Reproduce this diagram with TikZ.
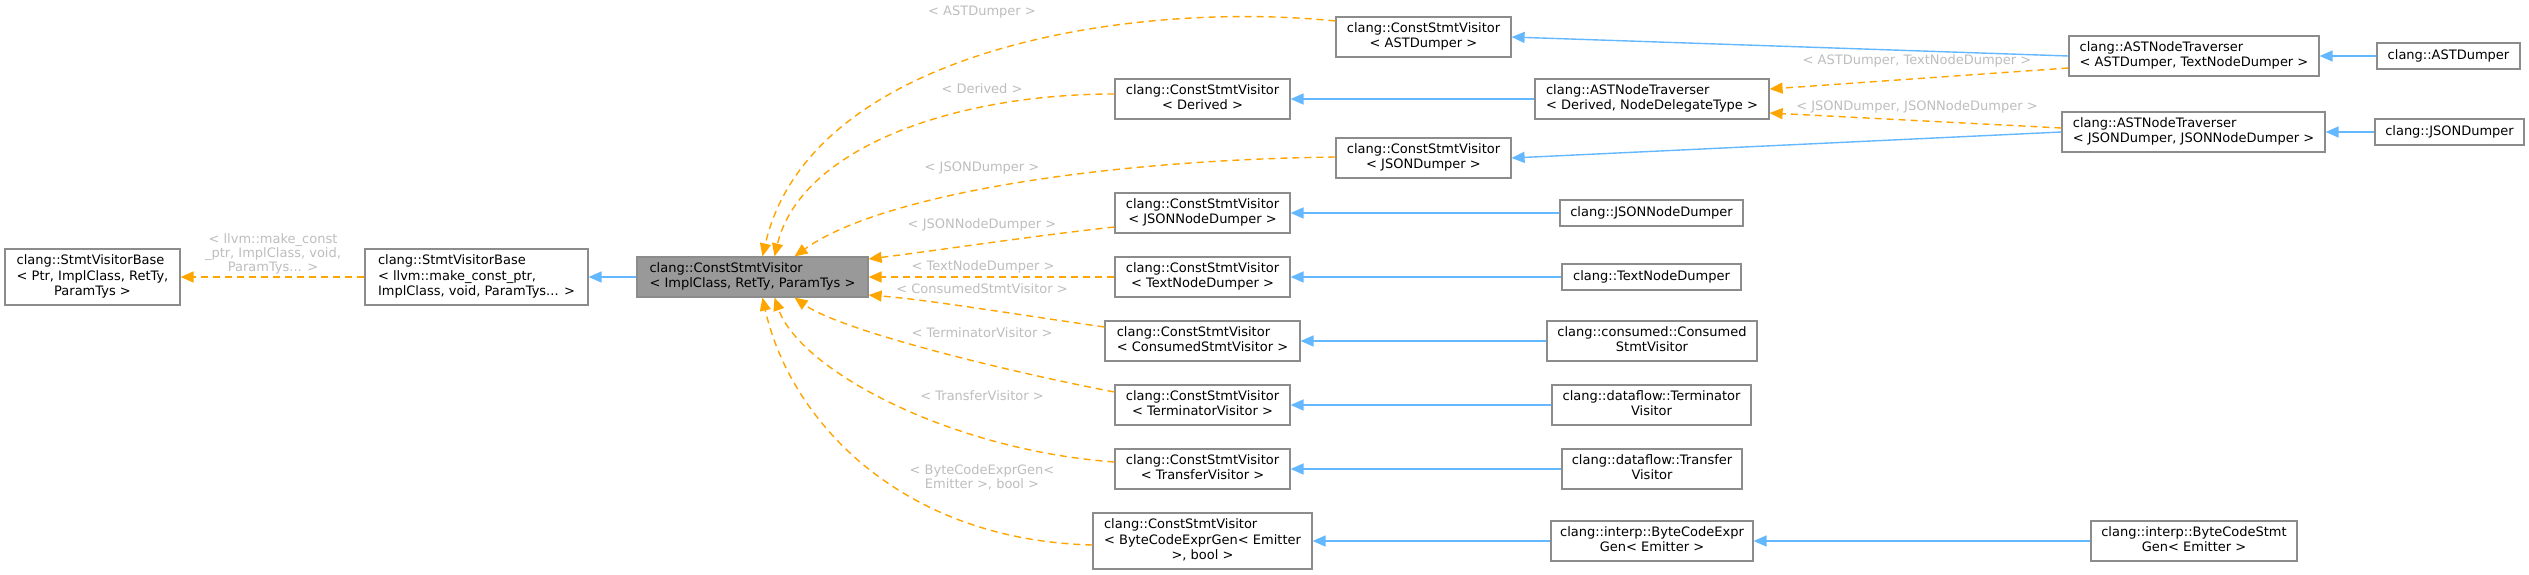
\documentclass[tikz,border=0pt]{standalone}
\usepackage{fontspec}
\setmainfont{DejaVu Sans}
\usetikzlibrary{arrows.meta,calc}
\definecolor{edgeblue}{HTML}{63B8FF}
\definecolor{edgeorange}{HTML}{FFA500}
\definecolor{lblgray}{HTML}{BEBEBE}
\definecolor{boxborder}{HTML}{8C8C8C}
\definecolor{mainfill}{HTML}{999999}
\newcommand{\twol}[2]{\begin{tabular}{@{}l@{}}#1\\\multicolumn{1}{@{}c@{}}{#2}\end{tabular}}
\newcommand{\threel}[3]{\begin{tabular}{@{}l@{}}#1\\#2\\\multicolumn{1}{@{}c@{}}{#3}\end{tabular}}
\tikzset{
  cls/.style={draw=boxborder, line width=1.2pt, fill=white, inner sep=0pt,
    font=\fontsize{13}{15.6}\selectfont, text=black, minimum height=40pt},
  mainbox/.style={cls, fill=mainfill},
  blueedge/.style={draw=edgeblue, line width=1.4pt, -{Triangle[length=13pt,width=11pt]}},
  orangeedge/.style={draw=edgeorange, line width=1.4pt, dash pattern=on 7pt off 5pt,
    -{Triangle[length=13pt,width=11pt]}},
  lbl/.style={text=lblgray, inner sep=0pt, align=center,
    font=\fontsize{13}{14}\selectfont},
}
\begin{document}
\begin{tikzpicture}[x=1pt,y=-1pt]
\fill[white] (0,0) rectangle (2529,574);
\useasboundingbox (0,0) rectangle (2529,574);

% nodes
\node[cls, minimum width=175pt, minimum height=56pt] (svbPtr) at (92.5,277)
  {\threel{clang::StmtVisitorBase}{< Ptr, ImplClass, RetTy,}{ParamTys >}};
\node[cls, minimum width=223pt, minimum height=56pt] (svbLlvm) at (476.5,277)
  {\threel{clang::StmtVisitorBase}{< llvm::make\_const\_ptr,}{ ImplClass, void, ParamTys... >}};
\node[mainbox, minimum width=231pt] (gray) at (752.5,277)
  {\twol{clang::ConstStmtVisitor}{< ImplClass, RetTy, ParamTys >}};

\node[cls, minimum width=175pt] (csvAST) at (1423.5,37) {\twol{clang::ConstStmtVisitor}{< ASTDumper >}};
\node[cls, minimum width=175pt] (csvDer) at (1202.5,99) {\twol{clang::ConstStmtVisitor}{< Derived >}};
\node[cls, minimum width=175pt] (csvJSON) at (1423.5,158) {\twol{clang::ConstStmtVisitor}{< JSONDumper >}};
\node[cls, minimum width=175pt] (csvJND) at (1202.5,213) {\twol{clang::ConstStmtVisitor}{< JSONNodeDumper >}};
\node[cls, minimum width=175pt] (csvTND) at (1202.5,277) {\twol{clang::ConstStmtVisitor}{< TextNodeDumper >}};
\node[cls, minimum width=195pt] (csvCons) at (1202.5,341) {\twol{clang::ConstStmtVisitor}{< ConsumedStmtVisitor >}};
\node[cls, minimum width=175pt] (csvTerm) at (1202.5,405) {\twol{clang::ConstStmtVisitor}{< TerminatorVisitor >}};
\node[cls, minimum width=175pt] (csvTrans) at (1202.5,469) {\twol{clang::ConstStmtVisitor}{< TransferVisitor >}};
\node[cls, minimum width=219pt, minimum height=56pt] (csvBC) at (1202.5,541)
  {\threel{clang::ConstStmtVisitor}{< ByteCodeExprGen< Emitter}{>, bool >}};

\node[cls, minimum width=234pt] (antDer) at (1652,99) {\twol{clang::ASTNodeTraverser}{< Derived, NodeDelegateType >}};
\node[cls, minimum width=250pt] (antAST) at (2194,56) {\twol{clang::ASTNodeTraverser}{< ASTDumper, TextNodeDumper >}};
\node[cls, minimum width=263pt] (antJSON) at (2193.5,132) {\twol{clang::ASTNodeTraverser}{< JSONDumper, JSONNodeDumper >}};

\node[cls, minimum width=143pt, minimum height=26pt] (astD) at (2448.5,56) {clang::ASTDumper};
\node[cls, minimum width=149pt, minimum height=26pt] (jsonD) at (2449.5,132) {clang::JSONDumper};
\node[cls, minimum width=183pt, minimum height=26pt] (jnd) at (1651.5,213) {clang::JSONNodeDumper};
\node[cls, minimum width=179pt, minimum height=26pt] (tnd) at (1651.5,277) {clang::TextNodeDumper};
\node[cls, minimum width=210pt] (consumed) at (1652,341) {\twol{clang::consumed::Consumed}{StmtVisitor}};
\node[cls, minimum width=199pt] (term) at (1651.5,405) {\twol{clang::dataflow::Terminator}{Visitor}};
\node[cls, minimum width=180pt] (transfer) at (1652,469) {\twol{clang::dataflow::Transfer}{Visitor}};
\node[cls, minimum width=202pt] (bceg) at (1652,541) {\twol{clang::interp::ByteCodeExpr}{Gen< Emitter >}};
\node[cls, minimum width=206pt] (bcsg) at (2194,541) {\twol{clang::interp::ByteCodeStmt}{Gen< Emitter >}};

% blue inheritance edges
\draw[blueedge] (gray.west) -- (svbLlvm.east);
\draw[blueedge] (antAST.west) -- (csvAST.east);
\draw[blueedge] (antDer.west) -- (csvDer.east);
\draw[blueedge] (antJSON.west) -- (csvJSON.east);
\draw[blueedge] (astD.west) -- (antAST.east);
\draw[blueedge] (jsonD.west) -- (antJSON.east);
\draw[blueedge] (jnd.west) -- (csvJND.east);
\draw[blueedge] (tnd.west) -- (csvTND.east);
\draw[blueedge] (consumed.west) -- (csvCons.east);
\draw[blueedge] (term.west) -- (csvTerm.east);
\draw[blueedge] (transfer.west) -- (csvTrans.east);
\draw[blueedge] (bceg.west) -- (csvBC.east);
\draw[blueedge] (bcsg.west) -- (bceg.east);

% orange template edges
\draw[orangeedge] (svbLlvm.west) -- (svbPtr.east);
\draw[orangeedge] ($(antAST.west)+(0,12)$) -- ($(antDer.east)+(0,-10)$);
\draw[orangeedge] ($(antJSON.west)+(0,-4)$) -- ($(antDer.east)+(0,14)$);

\draw[orangeedge] ($(csvAST.west)+(0,-16)$) .. controls (1130,0) and (810,50) .. ($(gray.north)+(10,0)$);
\draw[orangeedge] ($(csvDer.west)+(0,-5)$) .. controls (950,94) and (800,150) .. ($(gray.north)+(22,0)$);
\draw[orangeedge] ($(csvJSON.west)+(0,-1)$) .. controls (1100,160) and (880,195) .. ($(gray.north)+(42,0)$);
\draw[orangeedge] ($(csvJND.west)+(0,14)$) .. controls (1040,235) and (940,250) .. ($(gray.east)+(0,-18)$);
\draw[orangeedge] (csvTND.west) -- (gray.east);
\draw[orangeedge] ($(csvCons.west)+(0,-14)$) .. controls (1020,315) and (930,300) .. ($(gray.east)+(0,18)$);
\draw[orangeedge] ($(csvTerm.west)+(0,-13)$) .. controls (1000,370) and (840,330) .. ($(gray.south)+(42,0)$);
\draw[orangeedge] ($(csvTrans.west)+(0,-7)$) .. controls (950,450) and (800,370) .. ($(gray.south)+(22,0)$);
\draw[orangeedge] ($(csvBC.west)+(0,4)$) .. controls (900,540) and (790,420) .. ($(gray.south)+(10,0)$);

% edge labels
\node[lbl] (l0) at (273,254) {< llvm::make\_const\\\_ptr, ImplClass, void,\\ParamTys... >};
\node[lbl] (l1) at (982,12) {< ASTDumper >};
\node[lbl] (l2) at (982,89) {< Derived >};
\node[lbl] (l3) at (982,168) {< JSONDumper >};
\node[lbl] (l4) at (982,225) {< JSONNodeDumper >};
\node[lbl] (l5) at (983,267) {< TextNodeDumper >};
\node[lbl] (l6) at (982,289) {< ConsumedStmtVisitor >};
\node[lbl] (l7) at (982,333) {< TerminatorVisitor >};
\node[lbl] (l8) at (982,396) {< TransferVisitor >};
\node[lbl] (l9) at (982,477) {< ByteCodeExprGen<\\Emitter >, bool >};
\node[lbl] (l10) at (1917,61) {< ASTDumper, TextNodeDumper >};
\node[lbl] (l11) at (1917,107) {< JSONDumper, JSONNodeDumper >};
\end{tikzpicture}
\end{document}
